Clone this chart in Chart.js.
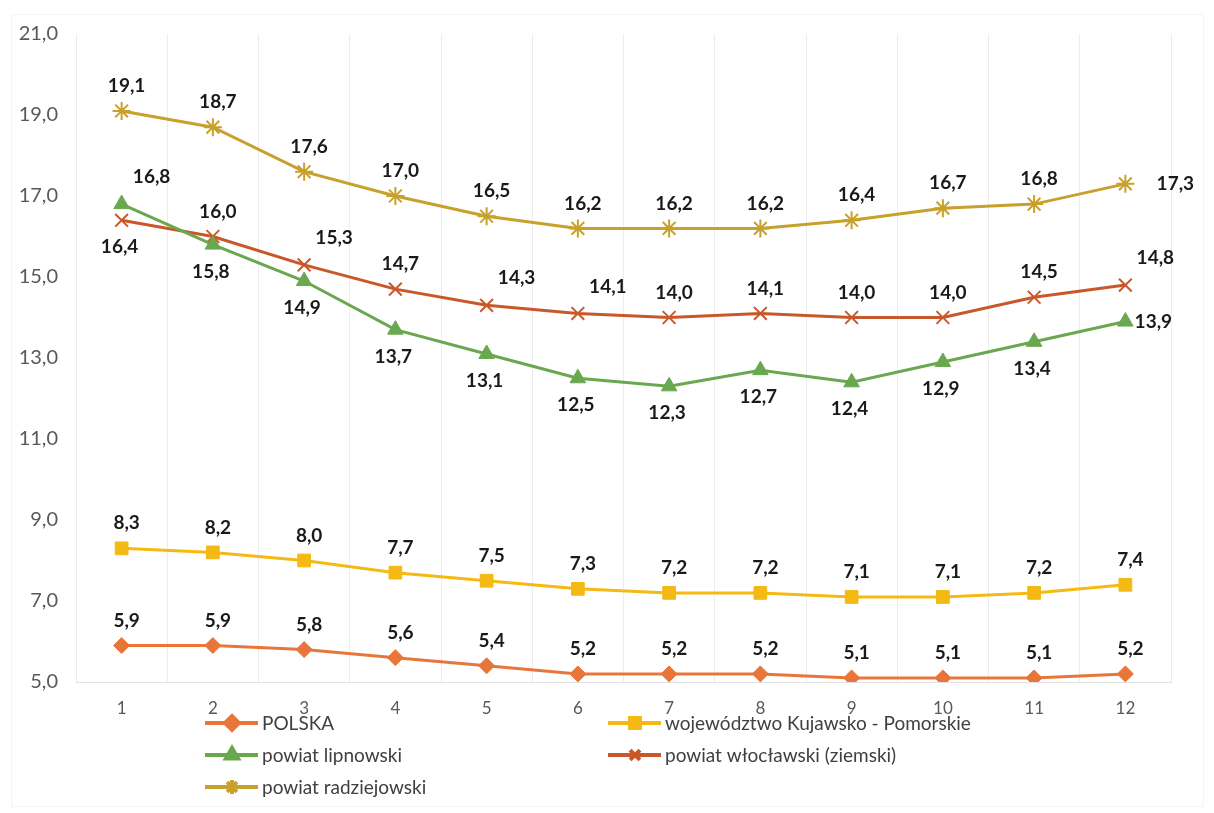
<!DOCTYPE html>
<html>
<head>
<meta charset="utf-8">
<script src="https://cdn.jsdelivr.net/npm/chart.js@4"></script>
<style>
  html, body { margin: 0; padding: 0; background: #fff; }
  #wrap { width: 1214px; height: 813px; position: relative; }
</style>
</head>
<body>
<div id="wrap"><canvas id="chart"></canvas></div>
<script>
// dane
const months = ['1', '2', '3', '4', '5', '6', '7', '8', '9', '10', '11', '12'];
const polska = [5.9, 5.9, 5.8, 5.6, 5.4, 5.2, 5.2, 5.2, 5.1, 5.1, 5.1, 5.2];
const wojewodztwo = [8.3, 8.2, 8.0, 7.7, 7.5, 7.3, 7.2, 7.2, 7.1, 7.1, 7.2, 7.4];
const lipnowski = [16.8, 15.8, 14.9, 13.7, 13.1, 12.5, 12.3, 12.7, 12.4, 12.9, 13.4, 13.9];
const wloclawski = [16.4, 16.0, 15.3, 14.7, 14.3, 14.1, 14.0, 14.1, 14.0, 14.0, 14.5, 14.8];
const radziejowski = [19.1, 18.7, 17.6, 17.0, 16.5, 16.2, 16.2, 16.2, 16.4, 16.7, 16.8, 17.3];
const yTicks = [5, 7, 9, 11, 13, 15, 17, 19, 21];

// gdzie stoją etykiety: a = nad, b = pod, r / rr = z prawej, ar = nad z prawej
const labelPos = {
  'POLSKA': 'a',
  'województwo Kujawsko - Pomorskie': 'a',
  'powiat lipnowski': ['ar', 'b', 'b', 'b', 'b', 'b', 'b', 'b', 'b', 'b', 'b', 'r'],
  'powiat włocławski (ziemski)': ['b', 'a', 'ar', 'a', 'ar', 'ar', 'a', 'a', 'a', 'a', 'a', 'ar'],
  'powiat radziejowski': ['a', 'a', 'a', 'a', 'a', 'a', 'a', 'a', 'a', 'a', 'a', 'rr']
};

const FONT = 'Lato, "Open Sans", sans-serif';

function ds(label, data, color, style, radius) {
  return {
    label, data,
    borderColor: color,
    backgroundColor: color,
    pointBackgroundColor: color,
    pointBorderColor: color,
    borderWidth: 3,
    pointStyle: style,
    pointRadius: radius,
    pointBorderWidth: style === 'crossRot' || style === 'star' ? 2 : 1,
    tension: 0
  };
}

const dataLabels = {
  id: 'dataLabels',
  afterDatasetsDraw(chart) {
    const ctx = chart.ctx;
    ctx.save();
    ctx.font = 'bold 19px ' + FONT;
    ctx.fillStyle = '#1a1a1a';
    ctx.textAlign = 'center';
    ctx.textBaseline = 'middle';
    chart.data.datasets.forEach((d, di) => {
      const meta = chart.getDatasetMeta(di);
      const pos = labelPos[d.label];
      meta.data.forEach((pt, i) => {
        const p = Array.isArray(pos) ? pos[i] : pos;
        const txt = d.data[i].toFixed(1).replace('.', ',');
        let x = pt.x, y = pt.y;
        if (p === 'a') { y -= 25; x += 5; }
        else if (p === 'b') { y += 27; x -= 2; }
        else if (p === 'r') { x += 28; }
        else if (p === 'rr') { x += 50; }
        else if (p === 'ar') { x += 30; y -= 27; }
        ctx.fillText(txt, x, y);
      });
    });
    ctx.restore();
  }
};

const customLegend = {
  id: 'customLegend',
  afterDraw(chart) {
    const ctx = chart.ctx;
    const slots = [[205, 723], [608, 723], [205, 755], [608, 755], [205, 787]];
    ctx.save();
    chart.data.datasets.forEach((d, i) => {
      const [x, y] = slots[i];
      ctx.strokeStyle = d.borderColor;
      ctx.lineWidth = 4;
      ctx.beginPath();
      ctx.moveTo(x, y);
      ctx.lineTo(x + 53, y);
      ctx.stroke();
      ctx.fillStyle = d.borderColor;
      Chart.helpers.drawPoint(ctx, {
        pointStyle: d.pointStyle,
        radius: 7,
        borderWidth: d.pointBorderWidth,
        rotation: 0
      }, x + 27, y);
      ctx.fillStyle = '#404040';
      ctx.font = '19px ' + FONT;
      ctx.textAlign = 'left';
      ctx.textBaseline = 'middle';
      ctx.fillText(d.label, x + 57, y + 1);
    });
    ctx.restore();
  }
};

const frame = {
  id: 'frame',
  beforeDraw(chart) {
    const ctx = chart.ctx;
    ctx.save();
    ctx.strokeStyle = '#f4f4f4';
    ctx.lineWidth = 1;
    ctx.strokeRect(11.5, 14.5, 1192, 792);
    ctx.restore();
  }
};

new Chart(document.getElementById('chart'), {
  type: 'line',
  data: {
    labels: months,
    datasets: [
      ds('POLSKA', polska, '#e8763a', 'rectRot', 8),
      ds('województwo Kujawsko - Pomorskie', wojewodztwo, '#f5b914', 'rect', 9),
      ds('powiat lipnowski', lipnowski, '#6aa84f', 'triangle', 9),
      ds('powiat włocławski (ziemski)', wloclawski, '#c8582a', 'crossRot', 9),
      ds('powiat radziejowski', radziejowski, '#c8a02c', 'star', 9)
    ]
  },
  options: {
    responsive: true,
    maintainAspectRatio: false,
    animation: false,
    layout: { padding: { left: 0, right: 43, top: 34, bottom: 0 } },
    plugins: {
      legend: { display: false },
      tooltip: { enabled: false }
    },
    scales: {
      x: {
        offset: true,
        grid: { offset: true, color: '#ededed', drawTicks: false },
        border: { color: '#e2e2e2' },
        ticks: { color: '#595959', font: { size: 17, family: FONT }, padding: 16 },
        afterFit(scale) { scale.height = 131; }
      },
      y: {
        min: 5, max: 21,
        afterBuildTicks(scale) { scale.ticks = yTicks.map(v => ({ value: v })); },
        grid: { display: false, drawTicks: false },
        border: { display: false },
        ticks: {
          color: '#595959',
          font: { size: 20, family: FONT },
          padding: 18,
          callback: v => v.toFixed(1).replace('.', ',')
        },
        afterFit(scale) { scale.width = 76; }
      }
    }
  },
  plugins: [frame, dataLabels, customLegend]
});
</script>
</body>
</html>
